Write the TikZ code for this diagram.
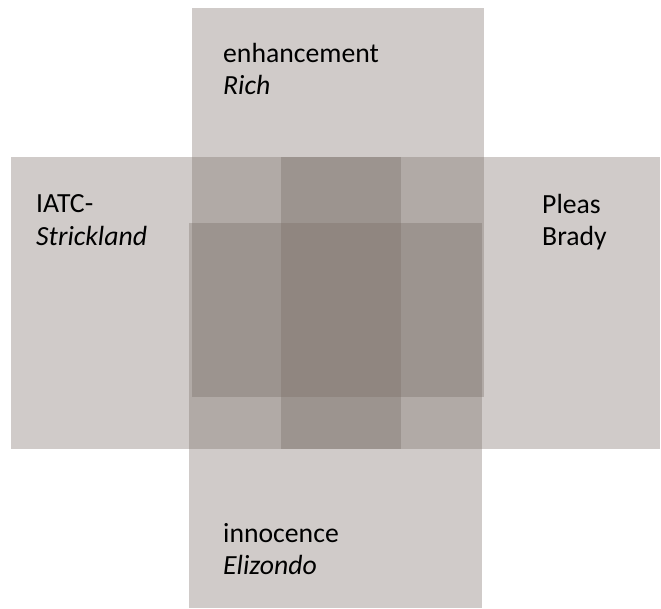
\documentclass[tikz,border=0pt]{standalone}
\usepackage{fontspec}
\setmainfont{Carlito}
\definecolor{boxgray}{RGB}{119,107,100}
\tikzset{
  panel/.style={fill=boxgray, fill opacity=0.35},
  lbl/.style={anchor=base west, inner sep=0pt, text=black, font=\fontsize{27.7}{32}\selectfont}
}
\begin{document}
\begin{tikzpicture}[x=1pt,y=-1pt]
\useasboundingbox (0,0) rectangle (661,609);
\fill[panel] (192,8) rectangle (484,397);
\fill[panel] (189,223) rectangle (482,608);
\fill[panel] (11,157) rectangle (401,449);
\fill[panel] (281,157) rectangle (660,449);
\node[lbl] (t1) at (223,63) {enhancement};
\node[lbl] (t2) at (223,95) {\textit{Rich}};
\node[lbl] (b1) at (223,542) {innocence};
\node[lbl] (b2) at (223,574) {\textit{Elizondo}};
\node[lbl] (l1) at (36,213) {IATC-};
\node[lbl] (l2) at (36,246) {\textit{Strickland}};
\node[lbl] (r1) at (542,214) {Pleas};
\node[lbl] (r2) at (542,246) {Brady};
\end{tikzpicture}
\end{document}
